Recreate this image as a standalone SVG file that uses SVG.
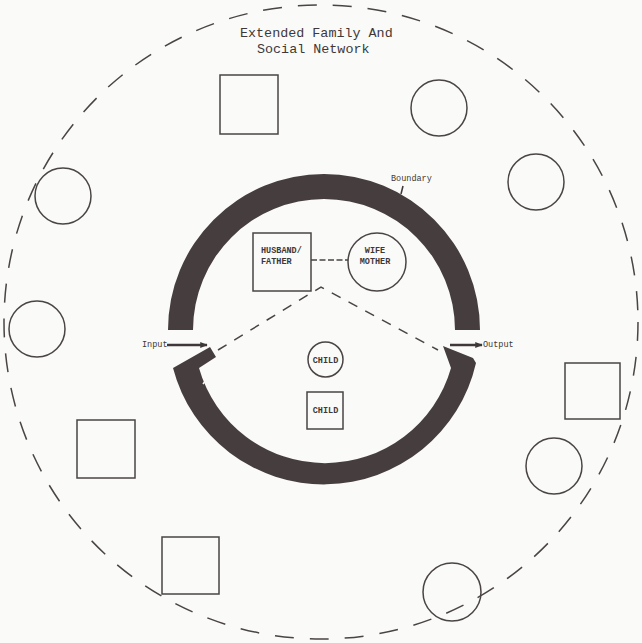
<svg xmlns="http://www.w3.org/2000/svg" width="642" height="643" viewBox="0 0 642 643">
<defs>
<style>
.bg{fill:#fafaf8}
.nd{fill:none;stroke:#4a4444;stroke-width:1.5}
.ring{fill:#463e3e;stroke:none}
.lab{font-family:"Liberation Mono","DejaVu Sans Mono",monospace;fill:#3e3838}
.sm{font-size:8.5px;font-weight:bold}
.big{font-size:13.4px}
.dash{fill:none;stroke:#4a4444;stroke-width:1.5}
</style>
<marker id="ah" viewBox="0 0 10 10" refX="9" refY="5" markerWidth="3" markerHeight="3" orient="auto" markerUnits="strokeWidth">
<path d="M0,1 L10,5 L0,9 Z" fill="#3e3838"/>
</marker>
</defs>
<rect class="bg" x="0" y="0" width="642" height="643"/>

<g id="network">
<ellipse class="dash" cx="321" cy="322" rx="317" ry="317" stroke-dasharray="19 16"/>
<text class="lab big" x="240" y="37">Extended Family And</text>
<text class="lab big" x="257" y="53">Social Network</text>
</g>

<g id="boundary">
<path class="ring" d="M168,330 A156,156 0 0 1 480,330 L455,330 A131,131 0 0 0 193,330 Z"/>
<path class="ring" d="M173,368 L210,347 L216,357 L199,368 A131,131 0 0 0 451,368 L443,346 L473,358 L476,363 A156,156 0 0 1 173,368 Z"/>
<line x1="203" y1="384" x2="206" y2="380" stroke="#fafaf8" stroke-width="1.5"/>
<line x1="403" y1="186" x2="401" y2="194" stroke="#3e3838" stroke-width="1.5"/>
<text class="lab" x="391" y="181" font-size="8.5">Boundary</text>
</g>

<g id="outer-nodes">
<rect id="n-sq-top" class="nd" x="220" y="75" width="58" height="59"/>
<circle id="n-c-topright" class="nd" cx="439" cy="108" r="28"/>
<circle id="n-c-right1" class="nd" cx="536" cy="182" r="28"/>
<circle id="n-c-left1" class="nd" cx="63" cy="196" r="28"/>
<circle id="n-c-left2" class="nd" cx="37" cy="329" r="28"/>
<rect id="n-sq-right" class="nd" x="565" y="363" width="55" height="56"/>
<rect id="n-sq-left" class="nd" x="77" y="420" width="58" height="58"/>
<circle id="n-c-right2" class="nd" cx="554" cy="466" r="28"/>
<rect id="n-sq-bottom" class="nd" x="162" y="537" width="57" height="57"/>
<circle id="n-c-bottom" class="nd" cx="452" cy="592" r="29"/>
</g>

<g id="husband">
<rect class="nd" x="253" y="233" width="58" height="58"/>
<text class="lab sm" x="261" y="253">HUSBAND/</text>
<text class="lab sm" x="261" y="264">FATHER</text>
</g>
<g id="wife">
<circle class="nd" cx="377" cy="262" r="29"/>
<text class="lab sm" x="375" y="253" text-anchor="middle">WIFE</text>
<text class="lab sm" x="375" y="264" text-anchor="middle">MOTHER</text>
</g>
<g id="child1">
<circle class="nd" cx="325.5" cy="359.5" r="17.5"/>
<text class="lab sm" x="325.5" y="363" text-anchor="middle">CHILD</text>
</g>
<g id="child2">
<rect class="nd" x="307" y="392" width="36" height="37"/>
<text class="lab sm" x="325.5" y="413" text-anchor="middle">CHILD</text>
</g>

<g id="connectors">
<line class="dash" x1="311" y1="260" x2="348" y2="260" stroke-width="2" stroke-dasharray="6 2.5"/>
<polyline class="dash" points="218,350 321,287 438,350" stroke-dasharray="10 9"/>
<line x1="167" y1="345" x2="207" y2="345" stroke="#3e3838" stroke-width="2.5" marker-end="url(#ah)"/>
<line x1="450" y1="345" x2="482" y2="345" stroke="#3e3838" stroke-width="2.5" marker-end="url(#ah)"/>
<text class="lab" x="142" y="347" font-size="8.5">Input</text>
<text class="lab" x="483" y="347" font-size="8.5">Output</text>
</g>
</svg>
